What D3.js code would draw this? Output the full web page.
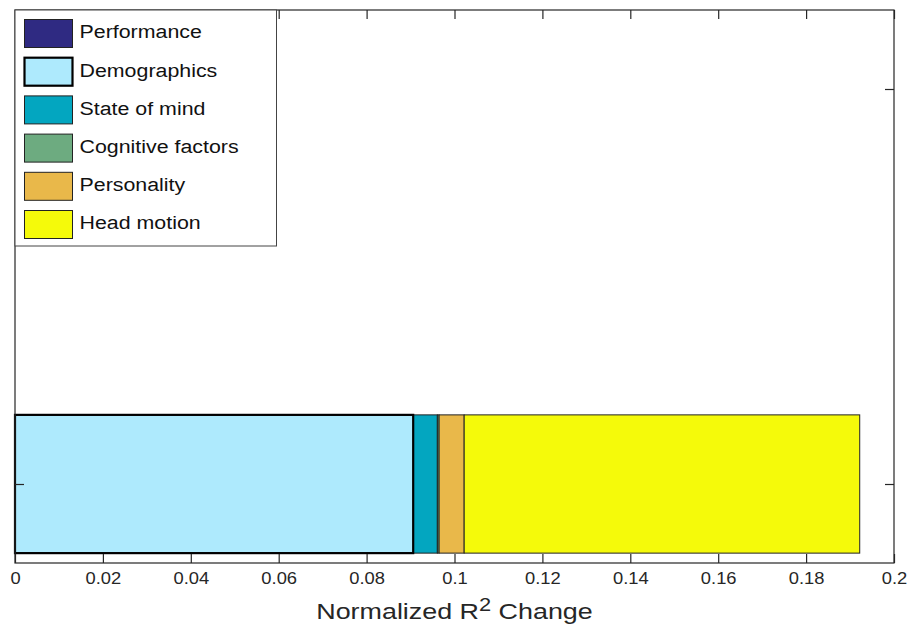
<!DOCTYPE html>
<html>
<head>
<meta charset="utf-8">
<script src="https://cdn.jsdelivr.net/npm/d3@7"></script>
<style>
  html, body { margin: 0; padding: 0; background: #fff; }
  svg { display: block; font-family: "Liberation Sans", Arial, Helvetica, sans-serif; }
</style>
</head>
<body>
<svg id="chart" width="909" height="626"></svg>
<script>
// Contribution of each factor group to the normalized R^2 change (stacked)
const categories = ["Performance", "Demographics", "State of mind", "Cognitive factors", "Personality", "Head motion"];
const values = [0.0, 0.0906, 0.0055, 0.0004, 0.0057, 0.0900];
const colors = ["#2f2a82", "#aeeafd", "#03a6c0", "#6dab80", "#e9b84a", "#f5fa0a"];
const xTicks = [0, 0.02, 0.04, 0.06, 0.08, 0.1, 0.12, 0.14, 0.16, 0.18, 0.2];
const xTickLabels = ["0", "0.02", "0.04", "0.06", "0.08", "0.1", "0.12", "0.14", "0.16", "0.18", "0.2"];
const yTicks = [1, 2];
const barPosition = 1;

const svg = d3.select("#chart");
const plotLeft = 15, plotRight = 894, plotTop = 10, plotBottom = 563;
const axisColor = "#262626";

const x = d3.scaleLinear().domain([0, 0.2]).range([plotLeft, plotRight]);
const y = d3.scaleLinear().domain([0.8, 2.2]).range([plotBottom, plotTop]);
const barHalf = 0.175;

// stacked segments
let acc = 0;
const segments = values.map((v, i) => {
  const s = { name: categories[i], x0: acc, x1: acc + v, color: colors[i], i };
  acc += v;
  return s;
});

const bars = svg.append("g");
bars.selectAll("rect")
  .data(segments.filter(d => d.x1 > d.x0))
  .join("rect")
  .attr("x", d => x(d.x0))
  .attr("width", d => x(d.x1) - x(d.x0))
  .attr("y", y(barPosition + barHalf))
  .attr("height", y(barPosition - barHalf) - y(barPosition + barHalf))
  .attr("fill", d => d.color)
  .attr("stroke", d => d.name === "Demographics" ? "#000" : "#222")
  .attr("stroke-width", d => d.name === "Demographics" ? 2.2 : 1);

// bring the highlighted segment outline to the front
bars.selectAll("rect").filter(d => d.name === "Demographics").raise();

// axis box
const frame = svg.append("g").attr("stroke", axisColor).attr("stroke-width", 1.2).attr("fill", "none");
frame.append("rect").attr("x", plotLeft).attr("y", plotTop).attr("width", plotRight - plotLeft).attr("height", plotBottom - plotTop);

const tickLen = 9;
// bottom axis with inward ticks
const xAxisBottom = d3.axisBottom(x).tickValues(xTicks).tickSize(-tickLen).tickFormat((d, i) => xTickLabels[i]).tickPadding(9);
const gb = svg.append("g").attr("transform", `translate(0,${plotBottom})`).call(xAxisBottom);
gb.select(".domain").remove();
gb.selectAll(".tick line").attr("stroke", axisColor).attr("stroke-width", 1.2);
gb.selectAll(".tick text")
  .attr("fill", axisColor)
  .attr("font-size", 17)
  .attr("font-family", "Liberation Sans, Arial, sans-serif")
  .attr("transform", "scale(1.08,1)");

// top axis with inward ticks, no labels
const xAxisTop = d3.axisTop(x).tickValues(xTicks).tickSize(-tickLen).tickFormat("");
const gt = svg.append("g").attr("transform", `translate(0,${plotTop})`).call(xAxisTop);
gt.select(".domain").remove();
gt.selectAll(".tick line").attr("stroke", axisColor).attr("stroke-width", 1.2);

// left and right axes, ticks only
const yAxisRight = d3.axisRight(y).tickValues(yTicks).tickSize(-tickLen).tickFormat("");
const gr = svg.append("g").attr("transform", `translate(${plotRight},0)`).call(yAxisRight);
gr.select(".domain").remove();
gr.selectAll(".tick line").attr("stroke", axisColor).attr("stroke-width", 1.2);

const yAxisLeft = d3.axisLeft(y).tickValues(yTicks).tickSize(-tickLen).tickFormat("");
const gl = svg.append("g").attr("transform", `translate(${plotLeft},0)`).call(yAxisLeft);
gl.select(".domain").remove();
gl.selectAll(".tick line").attr("stroke", axisColor).attr("stroke-width", 1.2);

// x axis title
const title = svg.append("text")
  .attr("transform", `translate(${(plotLeft + plotRight) / 2},618.5) scale(1.25,1)`)
  .attr("text-anchor", "middle")
  .attr("fill", axisColor)
  .attr("font-size", 21.5);
title.append("tspan").text("Normalized R");
title.append("tspan").attr("font-size", 17.5).attr("dy", -8).text("2");
title.append("tspan").attr("dy", 8).text(" Change");

// legend
const legend = svg.append("g");
legend.append("rect")
  .attr("x", 15).attr("y", 10).attr("width", 261.5).attr("height", 236)
  .attr("fill", "#fff").attr("stroke", "#444").attr("stroke-width", 1);

const rowStep = 38.2;
const rows = legend.selectAll("g.row")
  .data(segments)
  .join("g")
  .attr("class", "row")
  .attr("transform", (d, i) => `translate(0,${19 + i * rowStep})`);

rows.append("rect")
  .attr("x", 24.5).attr("y", 0.5)
  .attr("width", 48).attr("height", 28)
  .attr("fill", d => d.color)
  .attr("stroke", d => d.name === "Demographics" ? "#000" : "#222")
  .attr("stroke-width", d => d.name === "Demographics" ? 2.2 : 1);

rows.append("text")
  .attr("transform", "translate(79.5,19.3) scale(1.125,1)")
  .attr("fill", "#111")
  .attr("font-size", 19)
  .text(d => d.name);
</script>
</body>
</html>
